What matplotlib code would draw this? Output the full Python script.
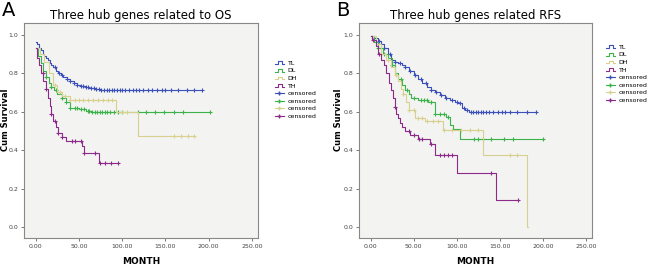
import numpy as np
import matplotlib.pyplot as plt
from matplotlib.lines import Line2D
from matplotlib.legend_handler import HandlerBase

# ---- panel A: overall survival ----
a_tl_t = [0, 2, 4, 6, 8, 10, 12, 14, 16, 18, 20, 23, 26, 29, 32, 36, 40, 44, 48, 52, 57, 62, 68, 74, 80, 192]
a_tl_s = [0.96, 0.95, 0.93, 0.92, 0.90, 0.89, 0.88, 0.87, 0.85, 0.84, 0.83, 0.81, 0.80, 0.79, 0.78, 0.77, 0.76, 0.75, 0.74, 0.735, 0.73, 0.725, 0.72, 0.715, 0.71, 0.71]
a_tl_c = [22, 27, 31, 36, 40, 44, 48, 52, 55, 58, 61, 64, 67, 70, 73, 76, 79, 82, 85, 88, 91, 94, 97, 100,
          103, 108, 112, 116, 120, 124, 130, 135, 140, 146, 150, 156, 165, 175, 183, 192]

a_dl_t = [0, 3, 6, 9, 12, 15, 18, 21, 25, 30, 35, 40, 50, 58, 65, 202]
a_dl_s = [0.93, 0.89, 0.85, 0.81, 0.78, 0.75, 0.73, 0.71, 0.69, 0.67, 0.65, 0.62, 0.615, 0.605, 0.60, 0.60]
a_dl_c = [12, 18, 24, 30, 35, 40, 45, 48, 52, 56, 60, 62, 65, 68, 71, 74, 77, 80, 83, 86, 90, 95, 100,
          118, 128, 138, 148, 160, 170, 202]

a_dh_t = [0, 5, 10, 15, 20, 25, 30, 40, 93, 118, 183]
a_dh_s = [0.93, 0.90, 0.86, 0.80, 0.74, 0.70, 0.68, 0.66, 0.60, 0.475, 0.475]
a_dh_c = [22, 28, 34, 40, 46, 50, 55, 60, 66, 72, 78, 84, 88, 100, 106, 160, 168, 176, 183]

a_th_t = [0, 2, 4, 6, 9, 12, 14, 16, 18, 20, 23, 26, 30, 35, 53, 56, 60, 73, 95]
a_th_s = [0.93, 0.88, 0.84, 0.80, 0.76, 0.72, 0.67, 0.63, 0.59, 0.55, 0.52, 0.49, 0.47, 0.45, 0.42, 0.385, 0.385, 0.335, 0.335]
a_th_c = [8, 12, 18, 22, 26, 30, 42, 45, 52, 56, 68, 74, 80, 87, 95]

# ---- panel B: relapse-free survival ----
b_tl_t = [0, 4, 8, 12, 16, 20, 24, 28, 32, 36, 40, 45, 50, 55, 60, 65, 70, 75, 80, 86, 92, 98, 102, 106, 110, 114, 192]
b_tl_s = [0.99, 0.98, 0.965, 0.95, 0.93, 0.90, 0.87, 0.86, 0.85, 0.84, 0.83, 0.81, 0.79, 0.77, 0.75, 0.73, 0.715, 0.70, 0.685, 0.67, 0.66, 0.65, 0.645, 0.62, 0.61, 0.60, 0.60]
b_tl_c = [10, 16, 22, 28, 34, 40, 46, 52, 58, 64, 70, 76, 82, 88, 94, 100, 104, 108, 112, 116, 119,
          122, 125, 128, 131, 134, 138, 142, 148, 152, 156, 162, 170, 182, 192]

b_dl_t = [0, 4, 8, 14, 20, 25, 28, 32, 36, 40, 44, 47, 55, 67, 75, 88, 92, 96, 104, 200]
b_dl_s = [0.99, 0.96, 0.93, 0.90, 0.88, 0.84, 0.80, 0.77, 0.74, 0.71, 0.69, 0.67, 0.66, 0.65, 0.59, 0.57, 0.53, 0.51, 0.457, 0.457]
b_dl_c = [8, 15, 25, 35, 42, 50, 58, 62, 66, 70, 75, 80, 85, 90, 120, 125, 130, 140, 155, 165, 200]

b_dh_t = [0, 6, 12, 18, 24, 28, 32, 35, 38, 41, 44, 51, 63, 84, 131, 182, 183]
b_dh_s = [0.99, 0.95, 0.90, 0.87, 0.83, 0.79, 0.76, 0.72, 0.69, 0.65, 0.61, 0.565, 0.55, 0.505, 0.375, 0.0, 0.0]
b_dh_c = [12, 20, 30, 38, 45, 50, 55, 60, 66, 72, 78, 85, 95, 105, 115, 125, 162, 170]

b_th_t = [0, 2, 6, 9, 12, 15, 18, 21, 24, 26, 28, 30, 32, 34, 36, 40, 46, 55, 69, 75, 100, 145, 171]
b_th_s = [0.99, 0.97, 0.94, 0.90, 0.87, 0.84, 0.80, 0.75, 0.71, 0.67, 0.625, 0.59, 0.565, 0.54, 0.52, 0.50, 0.48, 0.46, 0.43, 0.376, 0.28, 0.14, 0.14]
b_th_c = [3, 10, 28, 45, 50, 56, 60, 70, 80, 85, 90, 95, 140, 171]

colors = {'TL': '#3b50b8', 'DL': '#3cb24a', 'DH': '#d8d08e', 'TH': '#8c2a8c'}
panels = [
    ('A', 'Three hub genes related to OS',
     [('TL', a_tl_t, a_tl_s, a_tl_c), ('DL', a_dl_t, a_dl_s, a_dl_c),
      ('DH', a_dh_t, a_dh_s, a_dh_c), ('TH', a_th_t, a_th_s, a_th_c)]),
    ('B', 'Three hub genes related RFS',
     [('TL', b_tl_t, b_tl_s, b_tl_c), ('DL', b_dl_t, b_dl_s, b_dl_c),
      ('DH', b_dh_t, b_dh_s, b_dh_c), ('TH', b_th_t, b_th_s, b_th_c)]),
]


class StepHandler(HandlerBase):
    # little step icon like SPSS legends
    def create_artists(self, legend, orig, xd, yd, width, height, fontsize, trans):
        x = np.array([0, 0.35, 0.35, 0.75, 0.75, 1.0]) * width - xd
        y = np.array([0.2, 0.2, 0.8, 0.8, 0.2, 0.2]) * height - yd
        ln = Line2D(x, y, color=orig.get_color(), lw=0.8, transform=trans)
        return [ln]


W, H = 650, 271
fig = plt.figure(figsize=(6.5, 2.71), dpi=100)
axes_pos = [[24 / W, 33 / H, 234 / W, 215 / H],
            [359 / W, 33 / H, 233 / W, 215 / H]]
letter_x = [2 / W, 336 / W]
ylab_x = [1 / W, 334 / W]
leg_xy = [(272 / W, 1 - 58 / H), (603 / W, 1 - 42 / H)]

for (letter, title, curves), pos, lx, yx, lxy in zip(panels, axes_pos, letter_x, ylab_x, leg_xy):
    ax = fig.add_axes(pos)
    ax.set_facecolor('#f3f3f1')
    for name, t, s, c in curves:
        t = np.array(t, float)
        s = np.array(s, float)
        ax.plot(t, s, drawstyle='steps-post', color=colors[name], lw=0.8)
        c = np.array(c, float)
        idx = np.searchsorted(t, c, side='right') - 1
        ax.plot(c, s[idx], ls='none', marker='+', ms=3.5, mew=0.8, color=colors[name])
    ax.set_xlim(-13.5, 257)
    ax.set_ylim(-0.055, 1.06)
    ax.set_xticks([0, 50, 100, 150, 200, 250])
    ax.set_xticklabels(['0.00', '50.00', '100.00', '150.00', '200.00', '250.00'])
    ax.set_yticks([0, 0.2, 0.4, 0.6, 0.8, 1.0])
    ax.set_yticklabels(['0.0', '0.2', '0.4', '0.6', '0.8', '1.0'])
    ax.tick_params(labelsize=4.5, length=2, width=0.5, colors='#444444', pad=2)
    for sp in ax.spines.values():
        sp.set_color('#888888')
        sp.set_linewidth(0.8)
    ax.set_xlabel('MONTH', fontsize=6.5, fontweight='bold', labelpad=6)
    fig.text(yx, pos[1] + pos[3] * 0.55, 'Cum Survival', fontsize=6, fontweight='bold',
             rotation=90, ha='left', va='center')
    ax.set_title(title, fontsize=8.5, pad=3)
    fig.text(lx, 1 - 1 / H, letter, fontsize=14, va='top', ha='left')

    handles = [Line2D([], [], color=colors[n], lw=0.8) for n in ['TL', 'DL', 'DH', 'TH']]
    handles += [Line2D([], [], color=colors[n], lw=0.8, marker='+', ms=3.5) for n in ['TL', 'DL', 'DH', 'TH']]
    labels = ['TL', 'DL', 'DH', 'TH'] + ['censored'] * 4
    hmap = {h: StepHandler() for h in handles[:4]}
    fig.legend(handles, labels, loc='upper left', bbox_to_anchor=lxy, borderaxespad=0,
               fontsize=4.5, frameon=False, handlelength=1.5, labelspacing=0.35, handletextpad=0.6,
               handler_map=hmap)

fig.savefig('out.png', dpi=100)
